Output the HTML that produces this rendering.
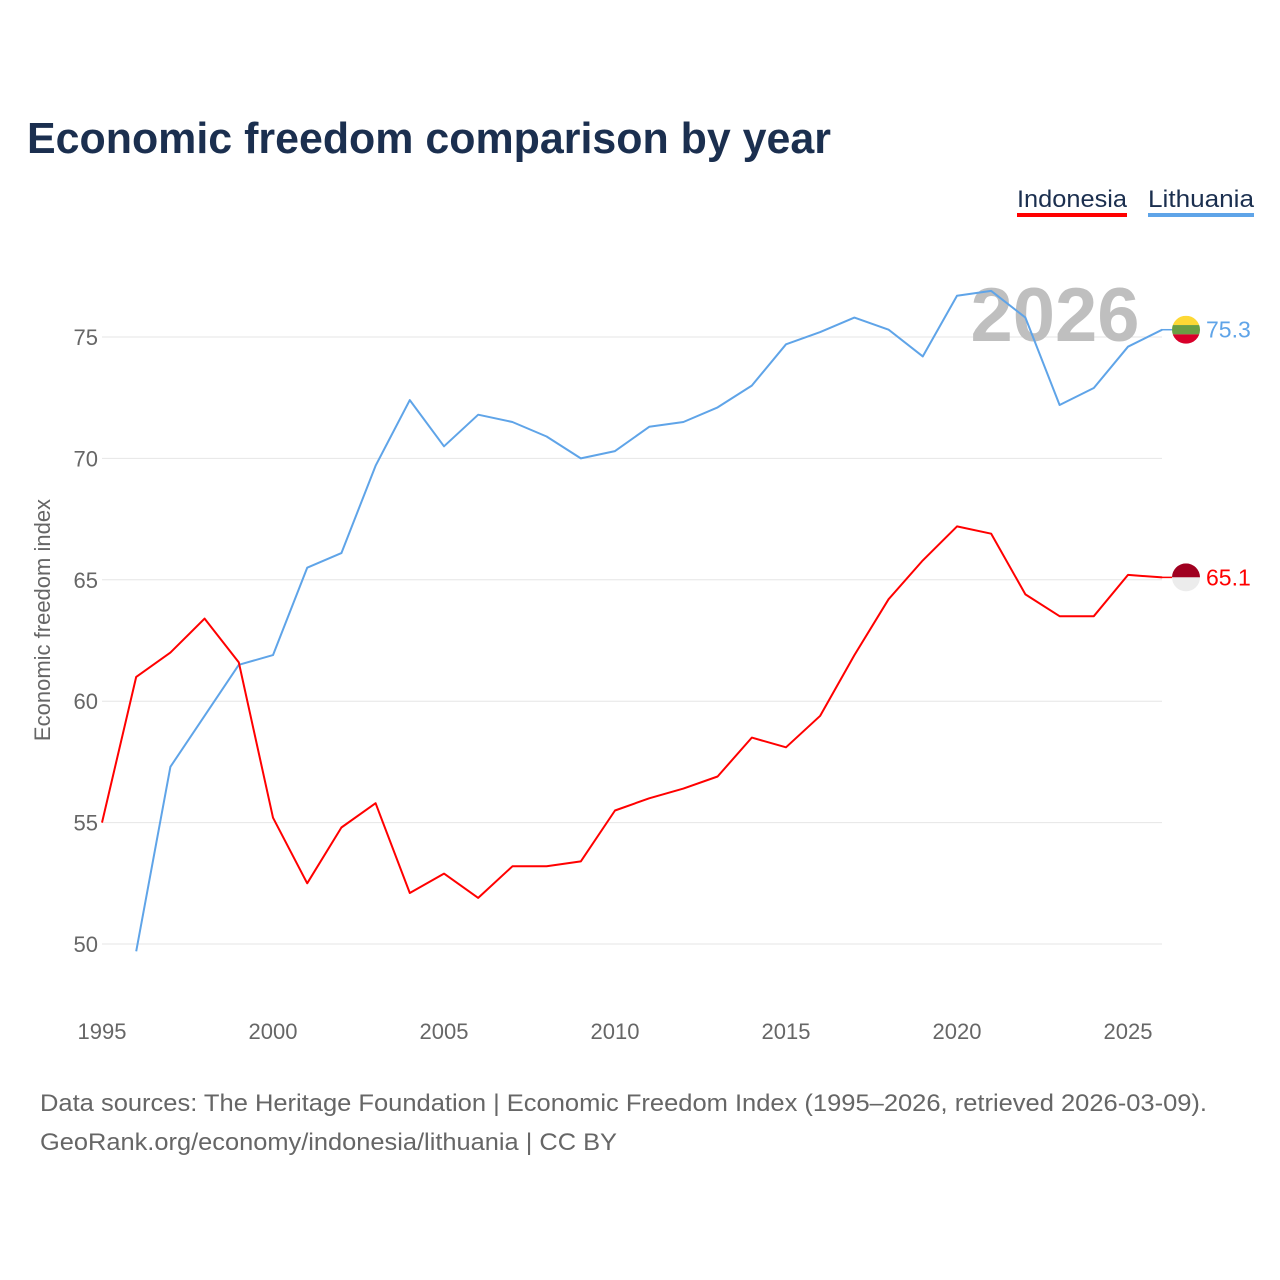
<!DOCTYPE html>
<html><head><meta charset="utf-8"><style>
html,body{margin:0;padding:0;background:#fff;}
svg{display:block;font-family:"Liberation Sans",sans-serif;}
</style></head><body>
<svg id="chart" width="1280" height="1280" viewBox="0 0 1280 1280">
<text x="27" y="153" font-size="44" font-weight="bold" fill="#1b2f4f" textLength="804" lengthAdjust="spacingAndGlyphs">Economic freedom comparison by year</text>
<g><text x="1017" y="207" font-size="24" fill="#1b2f4f" textLength="110" lengthAdjust="spacingAndGlyphs">Indonesia</text><rect x="1017" y="213" width="110" height="4" fill="#ff0000"/></g>
<g><text x="1148" y="207" font-size="24" fill="#1b2f4f" textLength="106" lengthAdjust="spacingAndGlyphs">Lithuania</text><rect x="1148" y="213" width="106" height="4" fill="#5fa4e8"/></g>
<g id="grid"></g>
<text x="1055" y="341" font-size="76" font-weight="bold" fill="#bfbfbf" text-anchor="middle">2026</text>
<g id="series"></g>
<text transform="translate(50,620) rotate(-90)" font-size="22" fill="#666" text-anchor="middle">Economic freedom index</text>
<text x="40" y="1111" font-size="24" fill="#666" textLength="1167" lengthAdjust="spacingAndGlyphs">Data sources: The Heritage Foundation | Economic Freedom Index (1995–2026, retrieved 2026-03-09).</text>
<text x="40" y="1150" font-size="24" fill="#666" textLength="577" lengthAdjust="spacingAndGlyphs">GeoRank.org/economy/indonesia/lithuania | CC BY</text>
</svg>
<script>
const years=[1995,1996,1997,1998,1999,2000,2001,2002,2003,2004,2005,2006,2007,2008,2009,2010,2011,2012,2013,2014,2015,2016,2017,2018,2019,2020,2021,2022,2023,2024,2025,2026];
const indonesia=[55.0,61.0,62.0,63.4,61.6,55.2,52.5,54.8,55.8,52.1,52.9,51.9,53.2,53.2,53.4,55.5,56.0,56.4,56.9,58.5,58.1,59.4,61.9,64.2,65.8,67.2,66.9,64.4,63.5,63.5,65.2,65.1];
const lithuania=[null,49.7,57.3,59.4,61.5,61.9,65.5,66.1,69.7,72.4,70.5,71.8,71.5,70.9,70.0,70.3,71.3,71.5,72.1,73.0,74.7,75.2,75.8,75.3,74.2,76.7,76.9,75.8,72.2,72.9,74.6,75.3];
const yTicks=[50,55,60,65,70,75];
const xTicks=[1995,2000,2005,2010,2015,2020,2025];
const NS="http://www.w3.org/2000/svg";
const X=y=>102+(y-1995)*34.2;
const Y=v=>944-(v-50)*24.28;
function mk(t,a,p){const e=document.createElementNS(NS,t);for(const k in a)e.setAttribute(k,a[k]);p.appendChild(e);return e;}
const grid=document.getElementById('grid'),series=document.getElementById('series');
yTicks.forEach(v=>{
 const l=mk('line',{x1:102,x2:1162,y1:Y(v),y2:Y(v),stroke:'#e6e6e6','stroke-width':1},grid);
 
 
 const t=mk('text',{x:98,y:Y(v)+8,'font-size':22,fill:'#666','text-anchor':'end'},grid);t.textContent=v;
 
 
});
xTicks.forEach(v=>{
 const t=mk('text',{x:X(v),y:1039,'font-size':22,fill:'#666','text-anchor':'middle'},grid);t.textContent=v;
 
 
});
function line(vals,color,name){
 let d='';vals.forEach((v,i)=>{if(v==null)return;d+=(d?'L':'M')+X(years[i]).toFixed(1)+','+Y(v).toFixed(1);});
 const p=mk('path',{d:d,fill:'none',stroke:color,'stroke-width':2,'stroke-linejoin':'round'},series);
 
 
}
line(lithuania,'#5fa4e8','lithuania');
line(indonesia,'#ff0000','indonesia');
function endLabel(vals,color,name,flag){
 const v=vals[vals.length-1],y=Y(v),cx=1186;
 mk('line',{x1:1162,x2:cx-14,y1:y,y2:y,stroke:color,'stroke-width':1.5},series);
 const g=mk('g',{},series);
 
 
 const cp=mk('clipPath',{id:'c'+name},g);mk('circle',{cx:cx,cy:y,r:14},cp);
 const h=28/flag.length;
 flag.forEach((c,i)=>mk('rect',{x:cx-14,y:y-14+i*h,width:28,height:h,fill:c,'clip-path':'url(#c'+name+')'},g));
 const t=mk('text',{x:1206,y:y+8,'font-size':23,fill:color},series);t.textContent=v.toFixed(1);
 
 
}
endLabel(lithuania,'#5fa4e8','lithuania',['#fdd835','#6a9e44','#d8002a']);
endLabel(indonesia,'#ff0000','indonesia',['#a00020','#ececec']);
</script>
</body></html>
